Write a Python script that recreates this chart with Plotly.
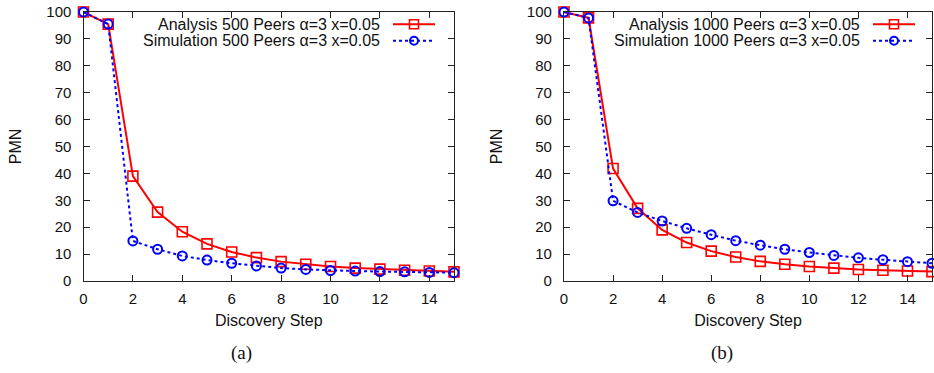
import plotly.graph_objects as go

W, H = 934, 373

steps = list(range(16))
analysis_500 = [100, 95.5, 39.0, 25.6, 18.3, 13.8, 10.8, 8.7, 7.2, 6.2, 5.4, 4.8, 4.4, 4.0, 3.7, 3.4]
simulation_500 = [100, 95.5, 14.9, 11.8, 9.3, 7.8, 6.6, 5.6, 4.8, 4.3, 3.9, 3.7, 3.5, 3.4, 3.2, 3.1]
analysis_1000 = [100, 97.8, 41.8, 27.0, 19.0, 14.3, 11.1, 8.9, 7.3, 6.2, 5.4, 4.8, 4.3, 4.0, 3.7, 3.5]
simulation_1000 = [100, 97.8, 29.8, 25.5, 22.3, 19.6, 17.2, 15.0, 13.3, 11.8, 10.6, 9.5, 8.6, 7.9, 7.2, 6.6]

legend_a = ["Analysis 500 Peers \u03b1=3 x=0.05", "Simulation 500 Peers \u03b1=3 x=0.05"]
legend_b = ["Analysis 1000 Peers \u03b1=3 x=0.05", "Simulation 1000 Peers \u03b1=3 x=0.05"]
captions = ["(a)", "(b)"]
x_title = "Discovery Step"
y_title = "PMN"

RED = "#ff0000"
BLUE = "#0000ff"
SANS = "Liberation Sans, Arial, sans-serif"
SERIF = "Liberation Serif, Times New Roman, serif"

fig = go.Figure()

panels = [
    (analysis_500, simulation_500, "x", "y"),
    (analysis_1000, simulation_1000, "x2", "y2"),
]
for an, si, xa, ya in panels:
    fig.add_trace(go.Scatter(
        x=steps, y=an, xaxis=xa, yaxis=ya, mode="lines+markers",
        line=dict(color=RED, width=2),
        marker=dict(symbol="square-open", size=10, color=RED, line=dict(width=1.6, color=RED)),
        showlegend=False, cliponaxis=False))
    fig.add_trace(go.Scatter(
        x=steps, y=si, xaxis=xa, yaxis=ya, mode="lines+markers",
        line=dict(color=BLUE, width=2, dash="dot"),
        marker=dict(symbol="circle-open", size=9, color=BLUE, line=dict(width=2, color=BLUE)),
        showlegend=False, cliponaxis=False))

def px_x(v):
    return v / W

def px_y(v):
    return 1 - v / H

y_dom = [px_y(281), px_y(12)]
x_doms = [[px_x(83.5), px_x(454)], [px_x(564), px_x(932)]]

axis_common = dict(
    showline=True, linecolor="#222222", linewidth=1.2, mirror="ticks",
    ticks="inside", ticklen=6, tickwidth=1, tickcolor="#222222",
    showgrid=False, zeroline=False, automargin=False,
    tickfont=dict(family=SANS, size=15, color="#111111"),
)

layout = dict(
    width=W, height=H, margin=dict(l=0, r=0, t=0, b=0, pad=0, autoexpand=False),
    paper_bgcolor="white", plot_bgcolor="white",
)
for i, (xn, yn) in enumerate([("xaxis", "yaxis"), ("xaxis2", "yaxis2")]):
    layout[xn] = dict(axis_common, domain=x_doms[i], range=[0, 15], tick0=0, dtick=2,
                      anchor="y" if i == 0 else "y2",
                      title=dict(text=x_title, font=dict(family=SANS, size=16, color="#111111"), standoff=8),
                      ticklabelstandoff=4)
    layout[yn] = dict(axis_common, domain=y_dom, range=[0, 100], tick0=0, dtick=10,
                      anchor="x" if i == 0 else "x2",
                      title=dict(text=y_title, font=dict(family=SANS, size=16, color="#111111"), standoff=20),
                      ticklabelstandoff=8)
fig.update_layout(**layout)

annotations = []
shapes = []
legend_specs = [
    (legend_a, 381.5, 393, 435),
    (legend_b, 861.5, 873, 915),
]
rows_y = [24.3, 40.7]
for labels, text_right, lx0, lx1 in legend_specs:
    for j, lab in enumerate(labels):
        annotations.append(dict(
            x=px_x(text_right), y=px_y(rows_y[j]), xref="paper", yref="paper",
            xanchor="right", yanchor="middle", showarrow=False, text=lab,
            font=dict(family=SANS, size=16, color="#111111")))
        color = RED if j == 0 else BLUE
        dash = "solid" if j == 0 else "dot"
        shapes.append(dict(type="line", xref="paper", yref="paper",
                           x0=px_x(lx0), x1=px_x(lx1), y0=px_y(rows_y[j]), y1=px_y(rows_y[j]),
                           line=dict(color=color, width=2, dash=dash)))
        cx = (lx0 + lx1) / 2
        if j == 0:
            shapes.append(dict(type="rect", xref="paper", yref="paper",
                               x0=px_x(cx - 4.5), x1=px_x(cx + 4.5),
                               y0=px_y(rows_y[j] + 4.5), y1=px_y(rows_y[j] - 4.5),
                               line=dict(color=RED, width=1.6), fillcolor="rgba(0,0,0,0)"))
        else:
            shapes.append(dict(type="circle", xref="paper", yref="paper",
                               x0=px_x(cx - 4), x1=px_x(cx + 4),
                               y0=px_y(rows_y[j] + 4), y1=px_y(rows_y[j] - 4),
                               line=dict(color=BLUE, width=2), fillcolor="rgba(0,0,0,0)"))

for k, cap in enumerate(captions):
    annotations.append(dict(
        x=px_x([241, 722][k]), y=px_y(353), xref="paper", yref="paper",
        xanchor="center", yanchor="middle", showarrow=False, text=cap,
        font=dict(family=SERIF, size=19, color="#111111")))

fig.update_layout(annotations=annotations, shapes=shapes)
fig.write_html("out.html")
